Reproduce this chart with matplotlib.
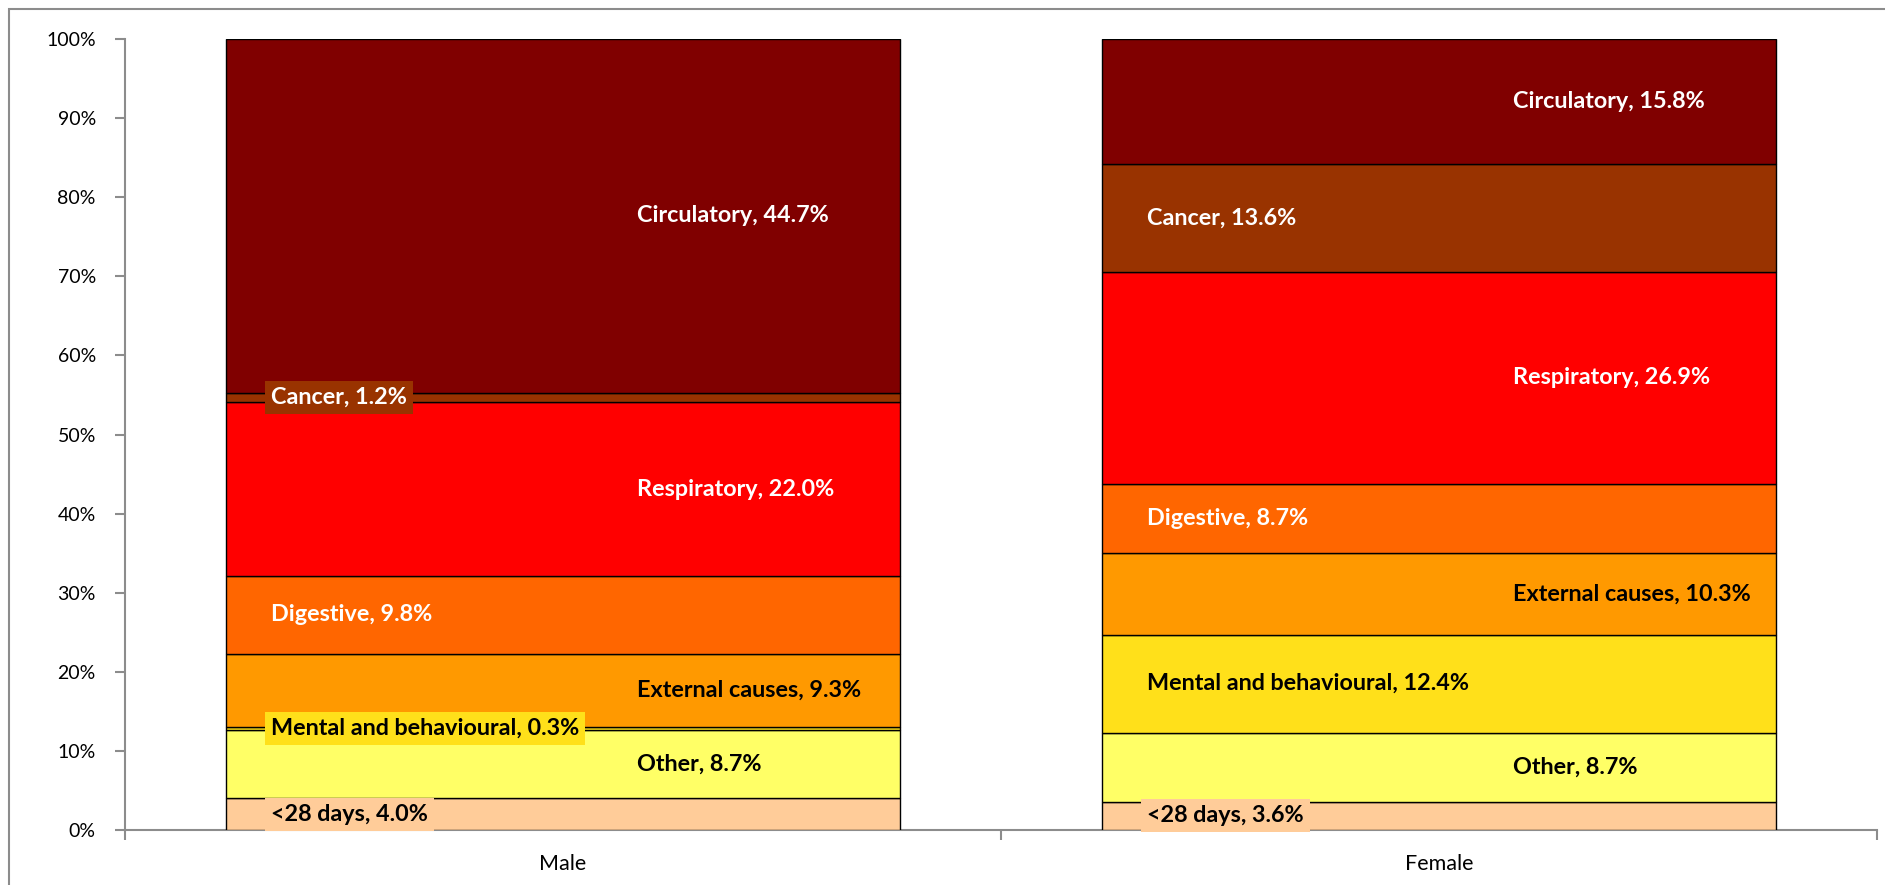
import matplotlib
matplotlib.use("Agg")
import matplotlib.pyplot as plt
from matplotlib.patches import Rectangle
from matplotlib.ticker import FuncFormatter

# ---- data ----
groups = ["Male", "Female"]
causes = ["<28 days", "Other", "Mental and behavioural", "External causes",
          "Digestive", "Respiratory", "Cancer", "Circulatory"]
male_pct = [4.0, 8.7, 0.3, 9.3, 9.8, 22.0, 1.2, 44.7]
female_pct = [3.6, 8.7, 12.4, 10.3, 8.7, 26.9, 13.6, 15.8]
y_ticks = [0, 10, 20, 30, 40, 50, 60, 70, 80, 90, 100]

# ---- styles ----
colors = ["#FFCC99", "#FFFF66", "#FFE01A", "#FF9900",
          "#FF6600", "#FF0000", "#993300", "#800000"]
text_colors = ["black", "black", "black", "black",
               "white", "white", "white", "white"]
# label placement: 'L' = near left of bar, 'M' = right of bar centre
male_place = ["L", "M", "L", "M", "L", "M", "L", "M"]
female_place = ["L", "M", "L", "M", "L", "M", "L", "M"]

W, H = 1885, 885
fig = plt.figure(figsize=(W / 100, H / 100), dpi=100)
fig.patch.set_facecolor("white")

# outer chart border (only top and left visible)
fig.add_artist(Rectangle((9 / W, -0.1), 1.2, (H - 9) / H + 0.1, transform=fig.transFigure,
                         fill=False, edgecolor="#8c8c8c", linewidth=1.5))

ax = fig.add_axes([125 / W, (H - 830) / H, (1877 - 125) / W, (830 - 39) / H])
ax.set_xlim(-0.5, 1.5)
ax.set_ylim(0, 100)

bar_w = 0.77
font = "Lato"
series = [male_pct, female_pct]
places = [male_place, female_place]

for gi, vals in enumerate(series):
    bottom = 0
    for ci, v in enumerate(vals):
        ax.bar(gi, v, bottom=bottom, width=bar_w, color=colors[ci],
               edgecolor="black", linewidth=1.0, zorder=2)
        bottom += v

for gi, vals in enumerate(series):
    bottom = 0
    for ci, v in enumerate(vals):
        mid = bottom + v / 2
        if places[gi][ci] == "L":
            x = gi - bar_w / 2 + 0.052
        else:
            x = gi + 0.085
        ax.text(x, mid, f"{causes[ci]}, {v:.1f}%", ha="left", va="center",
                fontsize=16.8, fontweight="bold", family=font,
                color=text_colors[ci], zorder=5,
                bbox=dict(boxstyle="square,pad=0.25", facecolor=colors[ci],
                          edgecolor="none"))
        bottom += v

# axes styling
for s in ["top", "right"]:
    ax.spines[s].set_visible(False)
for s in ["left", "bottom"]:
    ax.spines[s].set_color("#8c8c8c")
    ax.spines[s].set_linewidth(1.5)
    ax.spines[s].set_zorder(1)

ax.set_yticks(y_ticks)
ax.yaxis.set_major_formatter(FuncFormatter(lambda v, p: f"{int(v)}%"))
ax.tick_params(axis="y", direction="out", length=7, width=1.5, color="#8c8c8c",
               labelsize=14, pad=14)

ax.set_xticks([-0.5, 0.5, 1.5])
ax.set_xticklabels([])
ax.set_xticks([0, 1], minor=True)
ax.set_xticklabels(groups, minor=True)
ax.tick_params(axis="x", which="major", direction="out", length=7, width=1.5,
               color="#8c8c8c")
ax.tick_params(axis="x", which="minor", length=0, labelsize=15.5, pad=17)

for lab in ax.get_yticklabels() + ax.get_xticklabels(minor=True):
    lab.set_family(font)
    lab.set_color("black")

fig.savefig("out.png", dpi=100, facecolor="white")
